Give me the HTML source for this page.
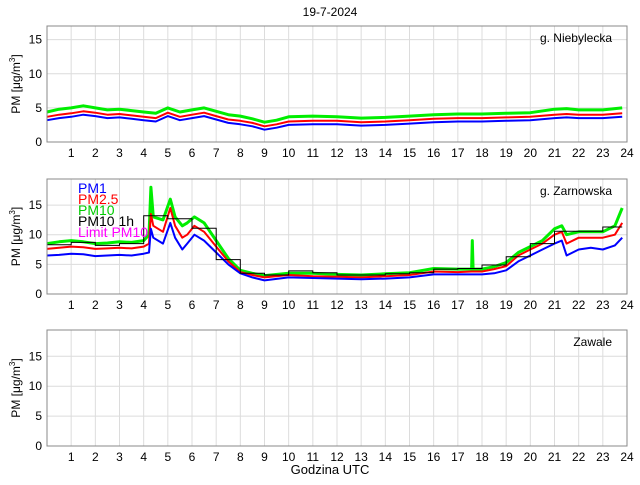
<!DOCTYPE html>
<html><head><meta charset="utf-8"><style>
body{margin:0;background:#fff;width:640px;height:480px;overflow:hidden}
text{font-family:"Liberation Sans",sans-serif}
</style></head><body>
<svg id="c" width="640" height="480" xmlns="http://www.w3.org/2000/svg">
<text x="330" y="16" font-size="12" text-anchor="middle">19-7-2024</text>
<text x="330" y="474" font-size="13" text-anchor="middle">Godzina UTC</text>
</svg>
<script>
const hourTicks=[1,2,3,4,5,6,7,8,9,10,11,12,13,14,15,16,17,18,19,20,21,22,23,24];
const yTicks=[0,5,10,15];
const t1=[0,0.5,1,1.5,2,2.5,3,3.5,4,4.5,5,5.5,6,6.5,7,7.5,8,8.5,9,9.5,10,11,12,13,14,15,16,17,18,19,20,21,21.5,22,23,23.8];
const n_pm1=[3.2,3.5,3.7,4,3.8,3.5,3.6,3.4,3.2,3,3.8,3.2,3.5,3.8,3.3,2.8,2.6,2.3,1.8,2.1,2.5,2.6,2.6,2.4,2.5,2.7,2.9,3,3,3.1,3.2,3.5,3.6,3.5,3.5,3.7];
const n_pm25=[3.7,4,4.2,4.5,4.3,4,4.1,3.9,3.7,3.5,4.3,3.7,4,4.3,3.8,3.3,3.1,2.8,2.3,2.6,3,3.1,3.1,2.9,3,3.2,3.4,3.5,3.5,3.6,3.7,4,4.1,4,4,4.2];
const n_pm10=[4.4,4.8,5,5.3,5,4.7,4.8,4.6,4.4,4.2,5,4.4,4.7,5,4.5,4,3.8,3.4,2.9,3.2,3.7,3.8,3.7,3.5,3.6,3.8,4,4.1,4.1,4.2,4.3,4.8,4.9,4.7,4.7,5];
const t2=[0,0.5,1,1.5,2,2.5,3,3.5,4,4.22,4.3,4.4,4.8,5.1,5.3,5.6,5.8,6.1,6.5,7,7.5,8,8.5,9,10,11,12,13,14,15,16,17,17.57,17.6,17.63,18,18.5,19,19.5,20,20.5,21,21.3,21.5,22,22.5,23,23.5,23.8];
const z_pm1=[6.5,6.6,6.8,6.7,6.4,6.5,6.6,6.5,6.8,7,11,9.5,8.5,12,9.5,7.5,8.5,10,9,7,5,3.5,2.8,2.3,2.8,2.7,2.6,2.5,2.6,2.8,3.3,3.3,3.3,3.3,3.3,3.3,3.5,4,5.5,6.5,7.5,8.5,9,6.5,7.5,7.8,7.5,8.2,9.5];
const z_pm25=[7.6,7.8,8,7.9,7.6,7.7,7.8,7.7,8,8.5,13.5,11.5,10.5,14.5,11.5,9.5,10,11.5,10.5,8,5.5,3.7,3.2,2.8,3.2,3,2.9,2.8,3,3.2,3.8,3.7,3.8,3.8,3.8,3.8,4.2,4.7,6.5,7.5,8.5,10,10.5,8.5,9.5,9.5,9.5,10,12];
const z_pm10=[8.5,8.8,9,8.8,8.5,8.6,8.8,8.7,9,10,18,13,12.5,16,13,11.5,12,13,12,9,6,4,3.5,3.1,3.5,3.5,3.3,3.2,3.4,3.6,4.3,4.2,4.2,9,4.2,4.2,4.6,5.3,7,8,9,11,11.5,10,10.5,10.5,10.5,11.5,14.5];
const z_hourly=[8.3,8.7,8.2,8.5,13.2,12.7,11.1,5.8,3.5,3.2,3.9,3.6,3.2,3.2,3.4,3.6,4.2,4.3,4.9,6.3,8.5,10.6,10.6,11.3];
const svg=document.getElementById('c');
const NS='http://www.w3.org/2000/svg';
const X0=47,X1=627;
function xs(h){return X0+h*(X1-X0)/24;}
function mk(tag,attrs,parent){const e=document.createElementNS(NS,tag);for(const k in attrs)e.setAttribute(k,attrs[k]);(parent||svg).appendChild(e);return e;}
function panel(top,bot,ymax,name,label){
  const g=mk('g',{});
  
  
  const ys=v=>bot-v*(bot-top)/ymax;
  const fr=mk('rect',{x:X0,y:top,width:X1-X0,height:bot-top,fill:'#fff',stroke:'none'},g);
  
  
  hourTicks.forEach(h=>{
    const l=mk('line',{x1:xs(h),x2:xs(h),y1:top,y2:bot,stroke:'#dcdcdc','stroke-width':1},g);
    
    
    const t=mk('text',{x:xs(h),y:bot+15,'font-size':12,'text-anchor':'middle'},g);
    t.textContent=h;
    
    
  });
  yTicks.forEach(v=>{
    if(v>0){const l=mk('line',{x1:X0,x2:X1,y1:ys(v),y2:ys(v),stroke:'#dcdcdc','stroke-width':1},g);
    
    }
    const t=mk('text',{x:X0-5,y:ys(v)+4,'font-size':12,'text-anchor':'end'},g);
    t.textContent=v;
    
    
  });
  const yl=mk('text',{transform:`translate(20,${(top+bot)/2}) rotate(-90)`,'font-size':12,'text-anchor':'middle'},g);
  yl.innerHTML='PM [μg/m<tspan dy="-5" font-size="8">3</tspan><tspan dy="5">]</tspan>';
  
  
  const st=mk('text',{x:612,y:top+16,'font-size':12,'text-anchor':'end'},g);
  st.textContent=label;
  
  
  return {g,ys};
}
function line(p,ts,vals,color,w,name){
  const d=ts.map((t,i)=>(i?'L':'M')+xs(t).toFixed(1)+','+p.ys(vals[i]).toFixed(1)).join('');
  const e=mk('path',{d,fill:'none',stroke:color,'stroke-width':w,'stroke-linejoin':'round'},p.g);
  
  
}
function steps(p,vals,name){
  let d='';
  vals.forEach((v,i)=>{const x0=xs(i),x1=xs(Math.min(i+1,23.8));d+=(i?'L':'M')+x0.toFixed(1)+','+p.ys(v).toFixed(1)+'L'+x1.toFixed(1)+','+p.ys(v).toFixed(1);});
  const e=mk('path',{d,fill:'none',stroke:'#000','stroke-width':1},p.g);
  
  
}
function frame(p,top,bot){
  const e=mk('rect',{x:X0,y:top,width:X1-X0,height:bot-top,fill:'none',stroke:'#888','stroke-width':1},p.g);
  
  
}
const p1=panel(26,142,17,'panel-niebylecka','g. Niebylecka');
line(p1,t1,n_pm10,'#00ee00',3,'series-pm10');
line(p1,t1,n_pm25,'#ff0000',2,'series-pm25');
line(p1,t1,n_pm1,'#0000ff',2,'series-pm1');
frame(p1,26,142);
const p2=panel(179,294,19.4,'panel-zarnowska','g. Zarnowska');
line(p2,t2,z_pm10,'#00ee00',3,'series-pm10');
line(p2,t2,z_pm25,'#ff0000',2,'series-pm25');
line(p2,t2,z_pm1,'#0000ff',2,'series-pm1');
steps(p2,z_hourly,'series-pm10-1h');
frame(p2,179,294);
const lg=[['PM1','#0000ff'],['PM2.5','#ff0000'],['PM10','#00cc00'],['PM10 1h','#000'],['Limit PM10','#ff00ff']];
lg.forEach((l,i)=>{
  const t=mk('text',{x:78,y:193+i*11,'font-size':14,fill:l[1]},p2.g);
  t.textContent=l[0];
  
  
});
const p3=panel(330,446,19.4,'panel-zawale','Zawale');
frame(p3,330,446);
</script>
</body></html>
